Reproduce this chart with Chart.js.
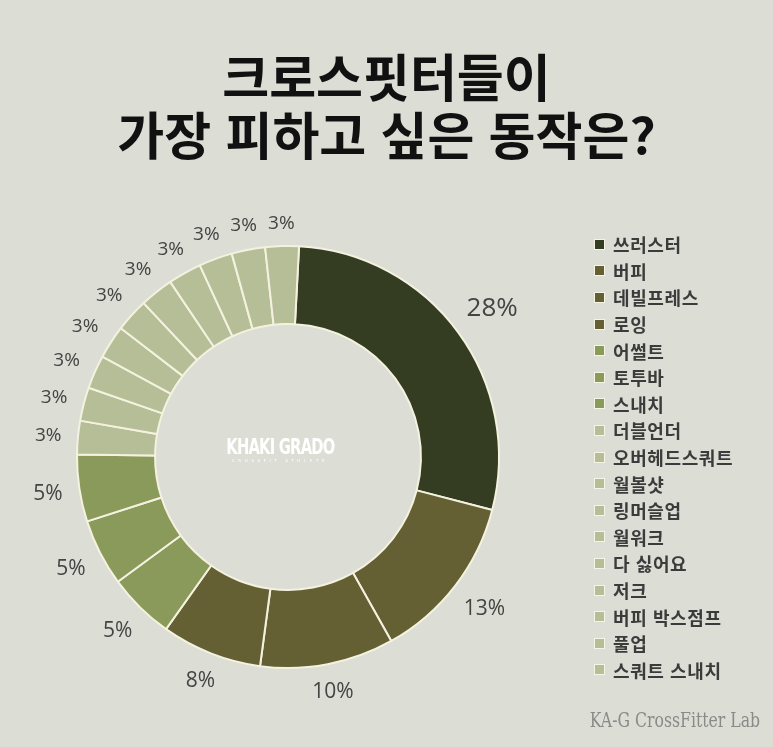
<!DOCTYPE html>
<html lang="ko">
<head>
<meta charset="utf-8">
<title>크로스핏터들이 가장 피하고 싶은 동작은?</title>
<script src="https://cdn.jsdelivr.net/npm/chart.js@4.4.1/dist/chart.umd.min.js"></script>
<style>
  html, body {
    margin: 0;
    padding: 0;
    background: #dcddd5;
  }
  #page {
    position: relative;
    width: 773px;
    height: 747px;
    overflow: hidden;
  }
  #chartBox {
    position: absolute;
    left: 0;
    top: 0;
    width: 773px;
    height: 747px;
  }
  .title {
    position: absolute;
    left: 0;
    width: 773px;
    text-align: center;
    font-family: "Noto Sans CJK KR", sans-serif;
    font-weight: 700;
    font-size: 51px;
    color: #111;
    line-height: 58px;
    top: 46px;
  }
  #logo {
    position: absolute;
    left: 180px;
    top: 437px;
    width: 200px;
    text-align: center;
    color: #fff;
    white-space: nowrap;
  }
  #logo .big {
    display: inline-block;
    font-family: "DejaVu Sans Condensed", "Liberation Sans Narrow", sans-serif;
    font-weight: 700;
    font-size: 21px;
    line-height: 21px;
    letter-spacing: -1px;
    transform: scaleX(0.78);
  }
  #logo .small {
    font-family: "DejaVu Sans", sans-serif;
    font-size: 4px;
    letter-spacing: 3.6px;
    line-height: 6px;
  }
  #legend {
    position: absolute;
    left: 594px;
    top: 231px;
    margin: 0;
    padding: 0;
    list-style: none;
  }
  #legend li {
    height: 26.6px;
    display: flex;
    align-items: center;
    font-family: "Noto Sans CJK KR", sans-serif;
    font-weight: 700;
    font-size: 18px;
    letter-spacing: 0.6px;
    color: #3b3b3b;
    white-space: nowrap;
  }
  #legend .box {
    display: inline-block;
    width: 9px;
    height: 9px;
    border: 1px solid #f6f4e4;
    margin-right: 8px;
  }
  #footer {
    position: absolute;
    right: 13px;
    top: 708px;
    font-family: "DejaVu Serif Condensed", "DejaVu Serif", serif;
    font-size: 21px;
    color: #8a8a88;
    transform: scaleX(0.83);
    transform-origin: right center;
    white-space: nowrap;
  }
</style>
</head>
<body>
<div id="page">
  <div id="chartBox"><canvas id="donut"></canvas></div>
  <div class="title">크로스핏터들이<br>가장 피하고 싶은 동작은?</div>
  <div id="logo"><div class="big">KHAKI GRADO</div><div class="small">CROSSFIT ATHLETE</div></div>
  <ul id="legend"></ul>
  <div id="footer">KA-G CrossFitter Lab</div>
</div>

<script>
// Survey answers (number of votes per movement)
const categories = [
  '쓰러스터', '버피', '데빌프레스', '로잉', '어썰트', '토투바', '스내치',
  '더블언더', '오버헤드스쿼트', '월볼샷', '링머슬업', '월워크', '다 싫어요',
  '저크', '버피 박스점프', '풀업', '스쿼트 스내치'
];
const votes = [11, 5, 4, 3, 2, 2, 2, 1, 1, 1, 1, 1, 1, 1, 1, 1, 1];

const sliceColors = [
  '#343c21',
  '#646034', '#646034', '#646034',
  '#8a9a5b', '#8a9a5b', '#8a9a5b',
  '#b5be97', '#b5be97', '#b5be97', '#b5be97', '#b5be97',
  '#b5be97', '#b5be97', '#b5be97', '#b5be97', '#b5be97'
];

const totalVotes = votes.reduce((a, b) => a + b, 0);

// Percentage labels outside the ring
const outsideLabels = {
  id: 'outsideLabels',
  afterDatasetsDraw(chart) {
    const ctx = chart.ctx;
    const meta = chart.getDatasetMeta(0);
    ctx.save();
    ctx.fillStyle = '#444444';
    ctx.textAlign = 'center';
    ctx.textBaseline = 'middle';
    meta.data.forEach((arc, i) => {
      const p = arc.getProps(['x', 'y', 'startAngle', 'endAngle', 'outerRadius'], true);
      const v = votes[i];
      const pct = Math.round(v / totalVotes * 100) + '%';
      const size = v >= 10 ? 26 : (v >= 2 ? 21 : 19);
      ctx.font = '400 ' + size + 'px "Open Sans", "Noto Sans", sans-serif';
      const w = ctx.measureText(pct).width;
      const h = size * 0.72;
      const mid = (p.startAngle + p.endAngle) / 2;
      const cx = Math.cos(mid);
      const sy = Math.sin(mid);
      const r = p.outerRadius + 16 + Math.abs(cx) * w / 2 + Math.abs(sy) * h / 2;
      ctx.fillText(pct, p.x + cx * r, p.y + sy * r + 1);
    });
    ctx.restore();
  }
};

const chart = new Chart(document.getElementById('donut'), {
  type: 'doughnut',
  data: {
    labels: categories,
    datasets: [{
      data: votes,
      backgroundColor: sliceColors,
      borderColor: '#f4f2df',
      borderWidth: 2,
      hoverOffset: 0
    }]
  },
  options: {
    responsive: true,
    maintainAspectRatio: false,
    animation: false,
    rotation: 3,
    cutout: '63%',
    layout: {
      padding: { left: 76, top: 245, right: 273, bottom: 78 }
    },
    plugins: {
      legend: { display: false },
      tooltip: { enabled: false }
    }
  },
  plugins: [outsideLabels]
});

// Legend list on the right, built from the chart's own legend items
const legendEl = document.getElementById('legend');
chart.options.plugins.legend.labels.generateLabels(chart).forEach((item) => {
  const li = document.createElement('li');
  const box = document.createElement('span');
  box.className = 'box';
  box.style.background = item.fillStyle;
  li.appendChild(box);
  li.appendChild(document.createTextNode(item.text));
  legendEl.appendChild(li);
});
</script>
</body>
</html>
